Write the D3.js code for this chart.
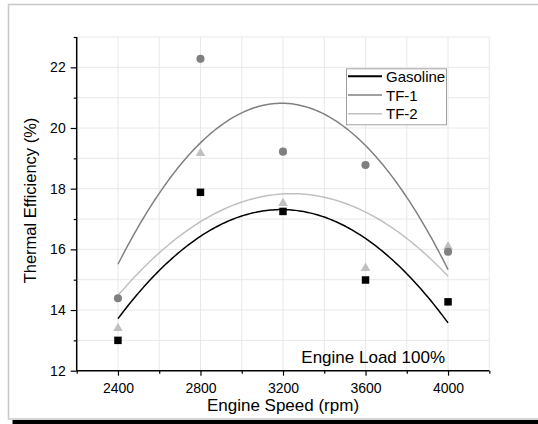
<!DOCTYPE html>
<html>
<head>
<meta charset="utf-8">
<script src="https://cdnjs.cloudflare.com/ajax/libs/d3/7.8.5/d3.min.js"></script>
<style>
  html, body { margin: 0; background: #fff; overflow: hidden; }
  svg { display: block; font-family: 'Liberation Sans', Arial, sans-serif; }
</style>
</head>
<body>
<div id="chart"></div>
<script>
// engine speed (rpm)
var speeds = [2400, 2800, 3200, 3600, 4000]
// thermal efficiency (%)
var gasoline = [13.0, 17.88, 17.25, 14.99, 14.27]
var tf1 = [14.39, 22.28, 19.22, 18.78, 15.92]
var tf2 = [13.4, 19.17, 17.52, 15.38, 16.09]
var seriesNames = ['Gasoline', 'TF-1', 'TF-2']

var xMajor = [2400, 2800, 3200, 3600, 4000]
var xMinor = [2200, 2600, 3000, 3400, 3800, 4200]
var yMajor = [12, 14, 16, 18, 20, 22]
var yMinor = [13, 15, 17, 19, 21, 23]

var width = 538
var height = 424
var margin = { top: 37, left: 76.7, right: 48.7, bottom: 53.3 }

var svg = d3
  .select('#chart')
  .append('svg')
  .attr('width', width)
  .attr('height', height)

// frame (left, top, bottom edges) + bottom shadow strip
svg.append('rect')
  .attr('x', 12.5).attr('y', 420)
  .attr('width', width - 12.5).attr('height', 4)
  .attr('fill', '#000')
svg.append('path')
  .attr('d', `M${width},4.5H8.5V419H${width}`)
  .attr('fill', 'none')
  .attr('stroke', '#c8c8c8')
  .attr('stroke-width', 1.5)

var xScale = d3.scaleLinear().domain([2200, 4200]).range([margin.left, width - margin.right])
var yScale = d3.scaleLinear().domain([12, 23]).range([height - margin.bottom, margin.top])

// grid
var grid = svg.append('g')
grid.selectAll('.vg')
  .data(xMajor.concat(xMinor).filter(d => d > 2200))
  .enter().append('line')
  .attr('x1', d => xScale(d)).attr('x2', d => xScale(d))
  .attr('y1', yScale(23)).attr('y2', yScale(12))
  .attr('stroke', '#e8e8e8').attr('stroke-width', 1)
grid.selectAll('.hg')
  .data(yMajor.concat(yMinor).filter(d => d > 12))
  .enter().append('line')
  .attr('x1', xScale(2200)).attr('x2', xScale(4200))
  .attr('y1', d => yScale(d)).attr('y2', d => yScale(d))
  .attr('stroke', '#e8e8e8').attr('stroke-width', 1)

// least squares quadratic fit
function quadFit(xs, ys) {
  var n = xs.length
  var s = [0, 0, 0, 0, 0], t = [0, 0, 0]
  for (var i = 0; i < n; i++) {
    var x = (xs[i] - 3200) / 400
    for (var k = 0; k < 5; k++) s[k] += Math.pow(x, k)
    for (var k = 0; k < 3; k++) t[k] += ys[i] * Math.pow(x, k)
  }
  var m = [[s[0], s[1], s[2], t[0]], [s[1], s[2], s[3], t[1]], [s[2], s[3], s[4], t[2]]]
  for (var c = 0; c < 3; c++) {
    for (var r = c + 1; r < 3; r++) {
      var f = m[r][c] / m[c][c]
      for (var j = c; j < 4; j++) m[r][j] -= f * m[c][j]
    }
  }
  var coef = [0, 0, 0]
  for (var r = 2; r >= 0; r--) {
    var v = m[r][3]
    for (var j = r + 1; j < 3; j++) v -= m[r][j] * coef[j]
    coef[r] = v / m[r][r]
  }
  return function(xv) {
    var x = (xv - 3200) / 400
    return coef[0] + coef[1] * x + coef[2] * x * x
  }
}

var series = [
  { name: 'Gasoline', values: gasoline, color: '#000000', shape: 'square' },
  { name: 'TF-1', values: tf1, color: '#808080', shape: 'circle' },
  { name: 'TF-2', values: tf2, color: '#c0c0c0', shape: 'triangle' }
]

var line = d3.line()
  .x(d => xScale(d[0]))
  .y(d => yScale(d[1]))

var samples = d3.range(2400, 4001, 10)

series.slice().reverse().forEach(function(s) {
  var f = quadFit(speeds, s.values)
  svg.append('path')
    .attr('d', line(samples.map(x => [x, f(x)])))
    .attr('fill', 'none')
    .attr('stroke', s.color)
    .attr('stroke-width', 1.5)
})

// points: triangles under circles under squares
series.slice().reverse().forEach(function(s) {
  var sym = d3.symbol()
    .type(s.shape === 'square' ? d3.symbolSquare : s.shape === 'circle' ? d3.symbolCircle : d3.symbolTriangle)
    .size(s.shape === 'square' ? 56 : s.shape === 'circle' ? 52 : 40)
  svg.append('g')
    .selectAll('path')
    .data(s.values)
    .enter()
    .append('path')
    .attr('d', sym)
    .attr('transform', (d, i) => `translate(${xScale(speeds[i])},${yScale(d)})`)
    .attr('fill', s.color)
})

// axes
var xAxis = svg.append('g')
  .attr('transform', `translate(0,${yScale(12)})`)
  .call(d3.axisBottom(xScale).tickValues(xMajor).tickSize(5).tickPadding(7).tickFormat(d3.format('d')))
svg.append('g')
  .attr('transform', `translate(0,${yScale(12)})`)
  .call(d3.axisBottom(xScale).tickValues(xMinor).tickSize(3).tickFormat(''))
  .select('.domain').remove()

var yAxis = svg.append('g')
  .attr('transform', `translate(${xScale(2200)},0)`)
  .call(d3.axisLeft(yScale).tickValues(yMajor).tickSize(6).tickPadding(5))
svg.append('g')
  .attr('transform', `translate(${xScale(2200)},0)`)
  .call(d3.axisLeft(yScale).tickValues(yMinor).tickSize(3).tickFormat(''))
  .select('.domain').remove()

svg.selectAll('.domain').attr('stroke', '#000').attr('stroke-width', 1.5)
svg.selectAll('.tick line').attr('stroke', '#000').attr('stroke-width', 1.2)
svg.selectAll('.tick text').attr('font-size', 14).attr('fill', '#000')
  .attr('font-family', "'Liberation Sans', Arial, sans-serif")

// plain axis lines without end caps
xAxis.select('.domain').attr('d', `M${xScale(2200)},0H${xScale(4200)}`)
yAxis.select('.domain').attr('d', `M0,${yScale(12)}V${yScale(23)}`)

// axis titles
svg.append('text')
  .attr('x', 283).attr('y', 411)
  .attr('text-anchor', 'middle')
  .attr('font-size', 17)
  .text('Engine Speed (rpm)')

svg.append('text')
  .attr('transform', 'translate(36,200.5) rotate(-90)')
  .attr('text-anchor', 'middle')
  .attr('font-size', 16.5)
  .text('Thermal Efficiency (%)')

// annotation
svg.append('text')
  .attr('x', 445).attr('y', 363.3)
  .attr('text-anchor', 'end')
  .attr('font-size', 17)
  .text('Engine Load 100%')

// legend
var legend = svg.append('g').attr('transform', 'translate(346,68.3)')
legend.append('rect')
  .attr('x', 0.5).attr('y', 0.5)
  .attr('width', 100).attr('height', 56)
  .attr('fill', '#fff')
  .attr('stroke', '#a0a0a0')
  .attr('stroke-width', 1)

var items = legend.selectAll('.item')
  .data(series)
  .enter()
  .append('g')
  .attr('transform', (d, i) => `translate(0,${8 + i * 18.7})`)
items.append('line')
  .attr('x1', 2).attr('x2', 36)
  .attr('stroke', d => d.color)
  .attr('stroke-width', (d, i) => i === 0 ? 2 : 1.5)
items.append('text')
  .attr('x', 40).attr('y', 5.5)
  .attr('font-size', 15)
  .text((d, i) => seriesNames[i])
</script>
</body>
</html>
